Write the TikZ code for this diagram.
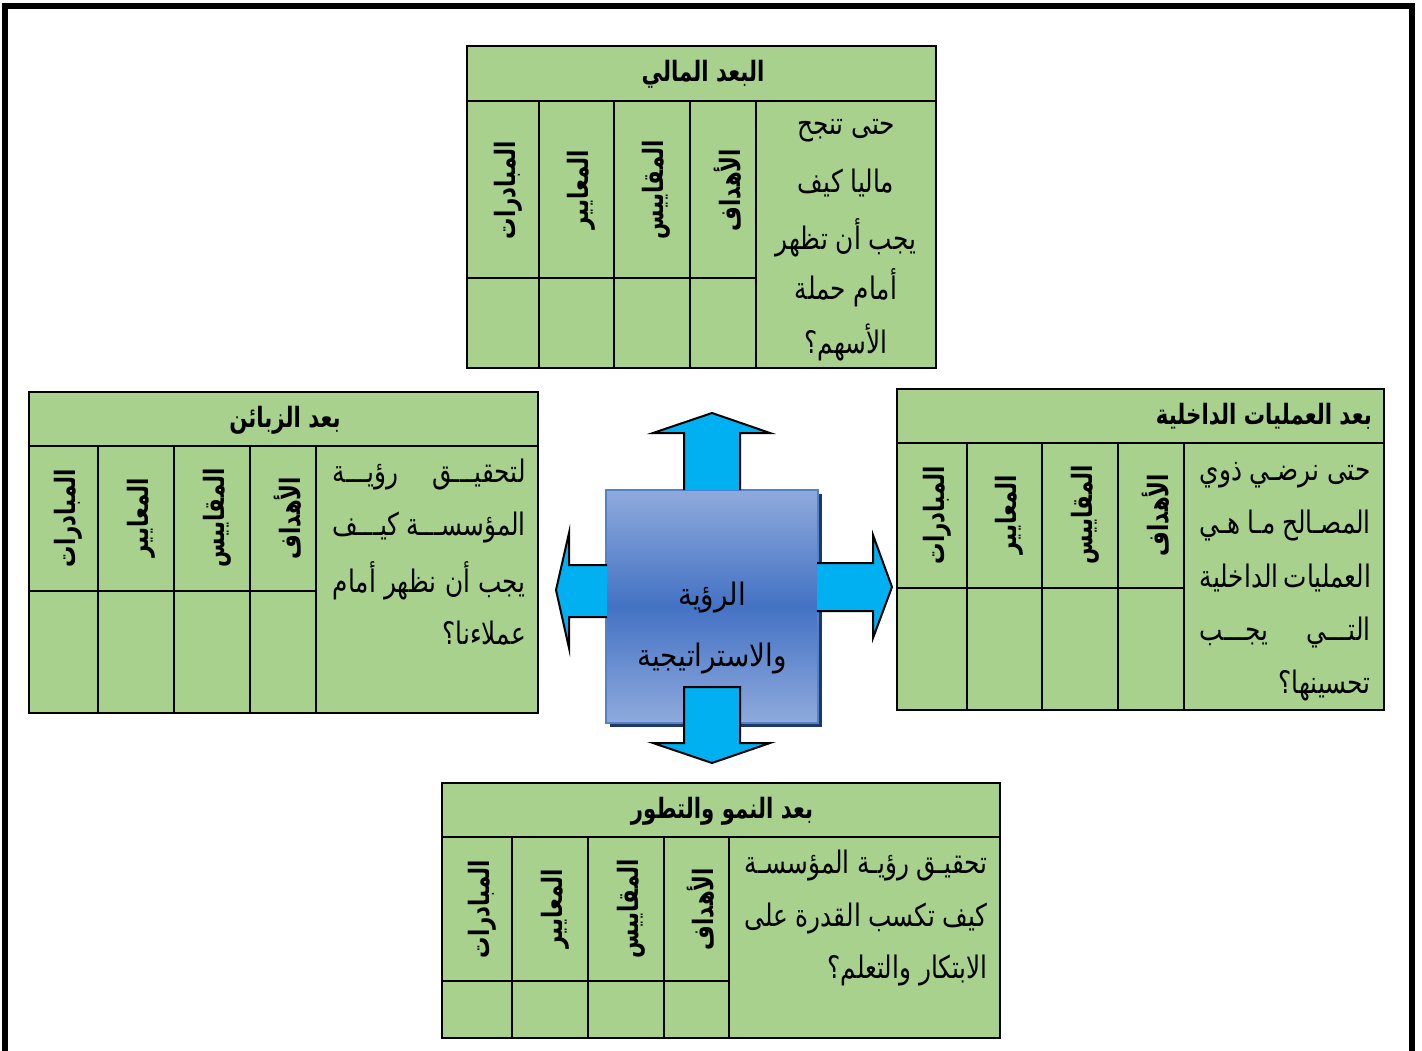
\documentclass[tikz,border=0pt]{standalone}
\usepackage{fontspec}
\newfontfamily\ar[Script=Arabic,FakeStretch=0.8]{DejaVu Sans}
\newfontfamily\arc[Script=Arabic,FakeStretch=0.9]{DejaVu Sans}
\newfontfamily\arh[Script=Arabic,FakeStretch=0.76]{DejaVu Sans}
\TeXXeTstate=1
\definecolor{grn}{HTML}{A9D18E}
\definecolor{cyn}{HTML}{00B0F0}
\definecolor{bfill}{HTML}{8FAADC}
\definecolor{bmid}{HTML}{4472C4}
\definecolor{bdraw}{HTML}{5580CC}
\definecolor{bshadow}{HTML}{203864}
\newcommand\vlabels[6]{%
 \node[vlab] (#1m) at (#2,#6) {\beginR المبادرات\endR};
 \node[vlab] (#1s) at (#3,#6) {\beginR المعايير\endR};
 \node[vlab] (#1q) at (#4,#6) {\beginR المقاييس\endR};
 \node[vlab] (#1g) at (#5,#6) {\beginR الأهداف\endR};}
\begin{document}
\begin{tikzpicture}[x=1pt,y=-1pt,
 cell/.style={fill=grn,draw=black,line width=2.2pt},
 grid/.style={draw=black,line width=2pt},
 vlab/.style={rotate=90,inner sep=0pt,font=\arh\bfseries\fontsize{28}{32}\selectfont},
 head/.style={inner sep=0pt,font=\arh\bfseries\fontsize{28}{32}\selectfont},
 body/.style={inner sep=0pt,font=\ar\fontsize{31}{34}\selectfont},
 arr/.style={fill=cyn,draw=black,line width=2pt,line join=miter},
]
\useasboundingbox (0,0) rectangle (1422,1050);
\draw[line width=6.5pt] (5,1070) -- (5,6) -- (1412,6) -- (1412,1070);

% ---------- top box: financial
\draw[cell] (467,46) rectangle (936,368);
\draw[grid] (467,101) -- (936,101) (539,101) -- (539,368) (614,101) -- (614,368)
  (690,101) -- (690,368) (756,101) -- (756,368) (467,278) -- (756,278);
\node[head] (fh) at (703,74) {\beginR البعد المالي\endR};
\vlabels{f}{508}{581}{656}{728}{190}
\node[body] (f1) at (846,131) {\beginR حتى تنجح\endR};
\node[body] (f2) at (846,183) {\beginR ماليا كيف\endR};
\node[body] (f3) at (846,238) {\beginR يجب أن تظهر\endR};
\node[body] (f4) at (846,288) {\beginR أمام حملة\endR};
\node[body] (f5) at (846,342) {\beginR الأسهم؟\endR};

% ---------- right box: internal processes
\draw[cell] (897,389) rectangle (1384,710);
\draw[grid] (897,443) -- (1384,443) (967,443) -- (967,710) (1042,443) -- (1042,710)
  (1118,443) -- (1118,710) (1184,443) -- (1184,710) (897,588) -- (1184,588);
\node[head,anchor=east] (ih) at (1372,416) {\beginR بعد العمليات الداخلية\endR};
\vlabels{i}{937}{1009}{1085}{1156}{515}
\node[body,anchor=east] (i1) at (1371,475) {\makebox[171pt][s]{\beginR حتى نرضـي ذوي\endR}};
\node[body,anchor=east] (i2) at (1371,525) {\makebox[171pt][s]{\beginR المصـالح مـا هـي\endR}};
\node[body,anchor=east] (i3) at (1371,578) {\makebox[171pt][s]{\beginR العمليات الداخلية\endR}};
\node[body,anchor=east] (i4) at (1371,632) {\makebox[171pt][s]{\beginR التـــي يجـــب\endR}};
\node[body,anchor=east] (i5) at (1371,685) {\beginR تحسينها؟\endR};

% ---------- left box: customers
\draw[cell] (29,392) rectangle (538,713);
\draw[grid] (29,446) -- (538,446) (98,446) -- (98,713) (174,446) -- (174,713)
  (250,446) -- (250,713) (316,446) -- (316,713) (29,591) -- (316,591);
\node[head] (ch) at (285,420) {\beginR بعد الزبائن\endR};
\vlabels{c}{68}{141}{217}{288}{518}
\node[body,anchor=east] (c1) at (526,475) {\makebox[193pt][s]{\beginR لتحقيـــق رؤيـــة\endR}};
\node[body,anchor=east] (c2) at (526,527) {\makebox[193pt][s]{\beginR المؤسســـة كيـــف\endR}};
\node[body,anchor=east] (c3) at (526,581) {\makebox[193pt][s]{\beginR يجب أن نظهر أمام\endR}};
\node[body,anchor=east] (c4) at (526,633) {\beginR عملاءنا؟\endR};

% ---------- bottom box: growth
\draw[cell] (442,783) rectangle (1000,1038);
\draw[grid] (442,837) -- (1000,837) (512,837) -- (512,1038) (588,837) -- (588,1038)
  (664,837) -- (664,1038) (729,837) -- (729,1038) (442,981) -- (729,981);
\node[head] (gh) at (722,811) {\beginR بعد النمو والتطور\endR};
\vlabels{g}{482}{555}{631}{701}{909}
\node[body,anchor=east] (g1) at (988,866) {\makebox[243pt][s]{\beginR تحقيـق رؤيـة المؤسسـة\endR}};
\node[body,anchor=east] (g2) at (988,918) {\makebox[243pt][s]{\beginR كيف تكسب القدرة على\endR}};
\node[body,anchor=east] (g3) at (988,970) {\beginR الابتكار والتعلم؟\endR};

% ---------- centre box
\node[fill=bshadow,minimum width=212pt,minimum height=233pt,inner sep=0pt] (vshadow) at (716,610.5) {};
\node[draw=bdraw,line width=2.5pt,top color=bfill,bottom color=bfill,middle color=bmid,
  minimum width=212pt,minimum height=233pt,inner sep=0pt] (vis) at (712,606.5) {};

% arrows
\draw[arr] (684,490) -- (684,433) -- (653,433) -- (712,413) -- (770,433) -- (740,433) -- (740,490);
\draw[arr] (684,687) -- (740,687) -- (740,743) -- (770,743) -- (712,763) -- (653,743) -- (684,743) -- cycle;
\draw[arr] (607,565) -- (569,565) -- (569,533) -- (556,590) -- (569,648) -- (569,617) -- (607,617);
\draw[arr] (817,563) -- (873,563) -- (873,535) -- (892,587) -- (873,638) -- (873,611) -- (817,611);

\node[inner sep=0pt,font=\arc\fontsize{31}{34}\selectfont] (v1) at (712,597) {\beginR الرؤية\endR};
\node[inner sep=0pt,font=\arc\fontsize{31}{34}\selectfont] (v2) at (712,658) {\beginR والاستراتيجية\endR};
\end{tikzpicture}
\end{document}
